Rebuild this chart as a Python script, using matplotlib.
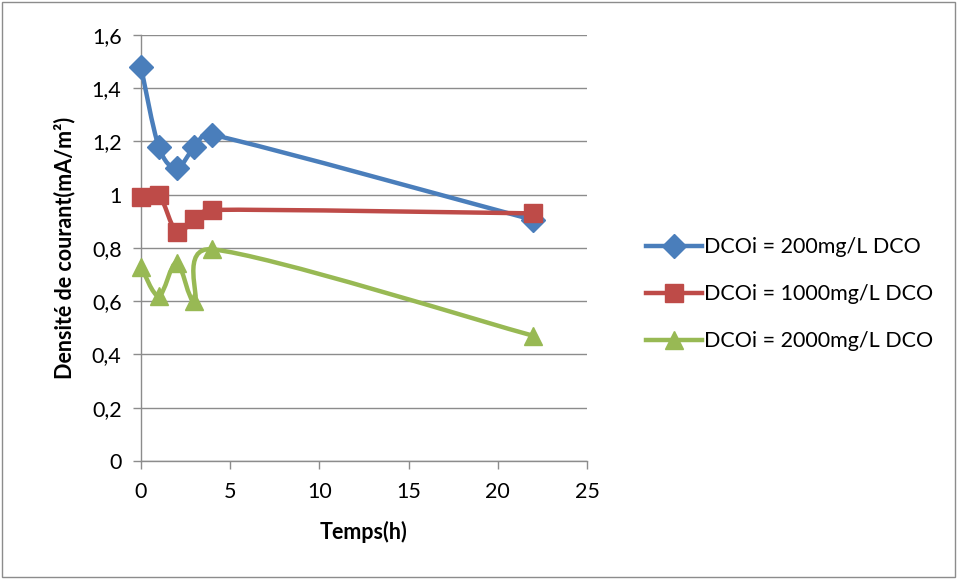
import matplotlib.pyplot as plt
import numpy as np
from matplotlib.path import Path
from matplotlib.patches import PathPatch, Rectangle
from matplotlib.lines import Line2D
from matplotlib.ticker import FuncFormatter

plt.rcParams['font.family'] = ['Lato', 'DejaVu Sans']

# Sampling times (h) and current density (mA/m²) per initial COD
temps = [0, 1, 2, 3, 4, 22]
dco_200 = [1.48, 1.18, 1.10, 1.18, 1.225, 0.905]
dco_1000 = [0.99, 1.00, 0.86, 0.91, 0.943, 0.93]
dco_2000 = [0.73, 0.62, 0.745, 0.60, 0.795, 0.47]
labels = ['DCOi = 200mg/L DCO', 'DCOi = 1000mg/L DCO', 'DCOi = 2000mg/L DCO']
colors = ['#4A7EBB', '#BE4B48', '#98B954']
markers = ['D', 's', '^']
msizes = [12, 13, 13]


def smooth_path(ax, x, y, clamp=0.6):
    # cardinal spline built in screen space, tangents clamped to the segment length
    p = ax.transData.transform(np.column_stack([x, y]).astype(float))
    n = len(p)
    verts = [p[0]]
    codes = [Path.MOVETO]
    for i in range(n - 1):
        prev = p[i - 1] if i > 0 else p[i]
        nxt = p[i + 2] if i + 2 < n else p[i + 1]
        seg = np.hypot(*(p[i + 1] - p[i]))
        t1 = (p[i + 1] - prev) / 6
        t2 = (nxt - p[i]) / 6
        for t in (t1, t2):
            L = np.hypot(*t)
            if L > clamp * seg:
                t *= clamp * seg / L
        verts += [p[i] + t1, p[i + 1] - t2, p[i + 1]]
        codes += [Path.CURVE4] * 3
    verts = ax.transData.inverted().transform(np.array(verts))
    return Path(verts, codes)


fig = plt.figure(figsize=(9.57, 5.79), dpi=100)
ax = fig.add_axes([0.1473, 0.2038, 0.4661, 0.7358])
ax.set_xlim(0, 25)
ax.set_ylim(0, 1.6)

for ys, c, m, ms, lab in zip([dco_200, dco_1000, dco_2000], colors, markers, msizes, labels):
    ax.add_patch(PathPatch(smooth_path(ax, temps, ys), facecolor='none',
                           edgecolor=c, linewidth=3.2, capstyle='round', zorder=3))
    ax.plot(temps, ys, linestyle='none', marker=m, markersize=ms,
            color=c, zorder=4, label=lab, clip_on=False)

ax.set_xticks(range(0, 26, 5))
ax.set_yticks(np.arange(0, 1.61, 0.2))
ax.yaxis.set_major_formatter(FuncFormatter(lambda v, p: f'{round(v, 1):g}'.replace('.', ',')))
ax.grid(True, axis='y', color='#8C8C8C', linewidth=1)
ax.set_axisbelow(True)
for side in ['top', 'right']:
    ax.spines[side].set_visible(False)
for side in ['left', 'bottom']:
    ax.spines[side].set_color('#8C8C8C')
    ax.spines[side].set_linewidth(1)
ax.tick_params(axis='both', colors='#8C8C8C', labelcolor='black', labelsize=15.5,
               length=6, width=1, direction='out')
ax.tick_params(axis='x', pad=9)
ax.tick_params(axis='y', pad=8)

ax.set_xlabel('Temps(h)', fontsize=15.5, fontweight='bold', labelpad=14)
ax.set_ylabel('Densité de courant(mA/m²)', fontsize=15.5, fontweight='bold', labelpad=12)

handles = [Line2D([0], [0], color=c, marker=m, markersize=ms, linewidth=3.2)
           for c, m, ms in zip(colors, markers, msizes)]
fig.legend(handles, labels, loc='center left', bbox_to_anchor=(0.655, 0.492),
           frameon=False, fontsize=15.5, handlelength=2.6, handletextpad=0.1,
           labelspacing=1.25)

# chart area border
fig.add_artist(Rectangle((0.002, 0.003), 0.996, 0.994, transform=fig.transFigure,
                         fill=False, edgecolor='#8C8C8C', linewidth=1))

plt.savefig('out.png', dpi=100)
